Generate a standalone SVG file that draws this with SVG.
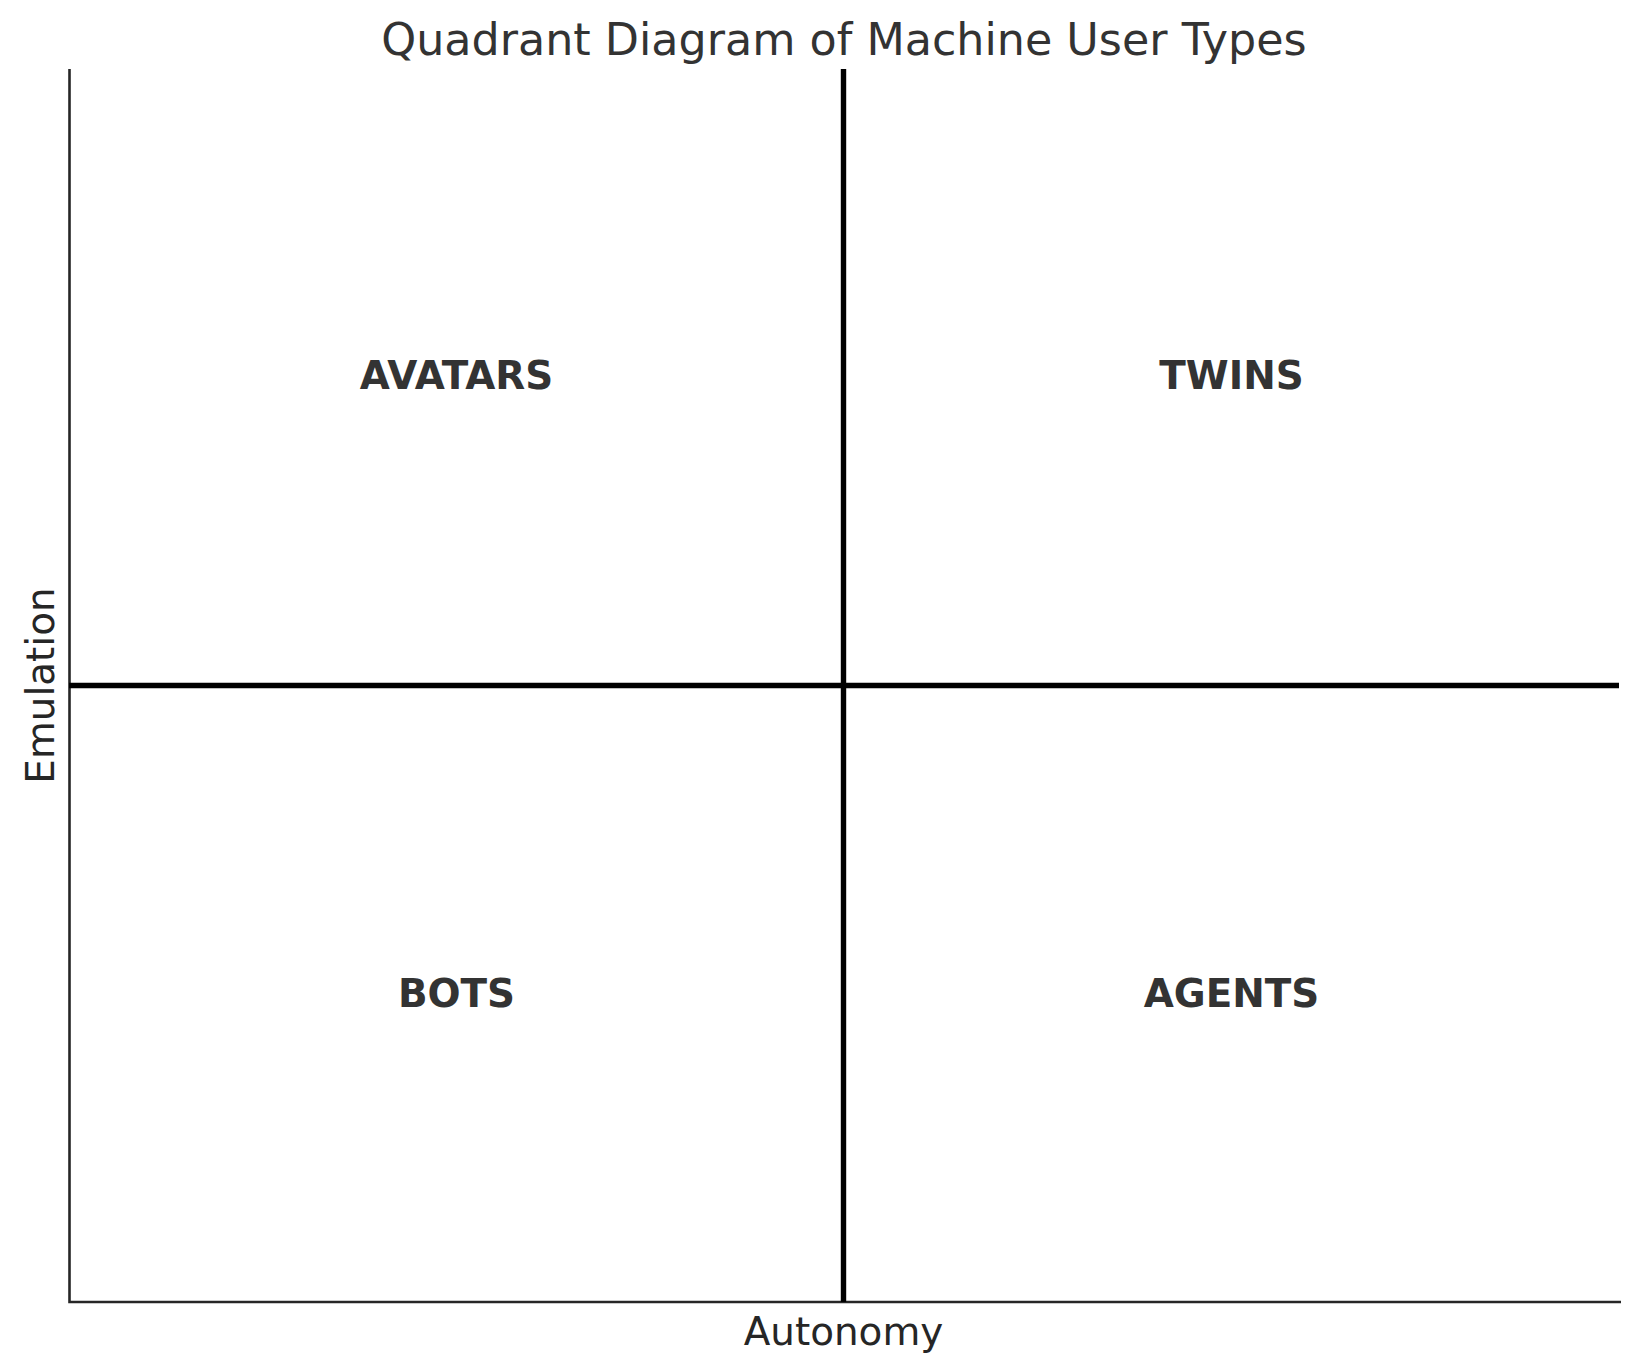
<svg xmlns="http://www.w3.org/2000/svg" width="1639" height="1371" viewBox="0 0 1639 1371">
<style>
.title{font-family:"DejaVu Sans",sans-serif;font-size:44.4px;fill:#333333;text-anchor:middle}
.axlabel{font-family:"DejaVu Sans",sans-serif;font-size:38.9px;fill:#262626;text-anchor:middle}
.quad{font-family:"DejaVu Sans",sans-serif;font-size:38.9px;font-weight:bold;fill:#333333;text-anchor:middle}
.spine{stroke:#262626;stroke-width:2.6;fill:none}
.divider{stroke:#000000;stroke-width:5.4;fill:none}
</style>
<rect x="0" y="0" width="1639" height="1371" fill="#ffffff"/>
<text class="title" x="844" y="55">Quadrant Diagram of Machine User Types</text>
<g id="axes">
<path class="spine" d="M69.5 69 V1302 H1621"/>
</g>
<g id="connectors">
<line class="divider" x1="843.5" y1="69" x2="843.5" y2="1302"/>
<line class="divider" x1="69" y1="685.5" x2="1619" y2="685.5"/>
</g>
<g id="node-avatars"><text class="quad" x="456.5" y="389">AVATARS</text></g>
<g id="node-twins"><text class="quad" x="1231.5" y="389">TWINS</text></g>
<g id="node-bots"><text class="quad" x="456.5" y="1007">BOTS</text></g>
<g id="node-agents"><text class="quad" x="1231.5" y="1007">AGENTS</text></g>
<text class="axlabel" x="843.5" y="1345">Autonomy</text>
<text class="axlabel" transform="translate(53.5,685.5) rotate(-90)" x="0" y="0">Emulation</text>
</svg>
